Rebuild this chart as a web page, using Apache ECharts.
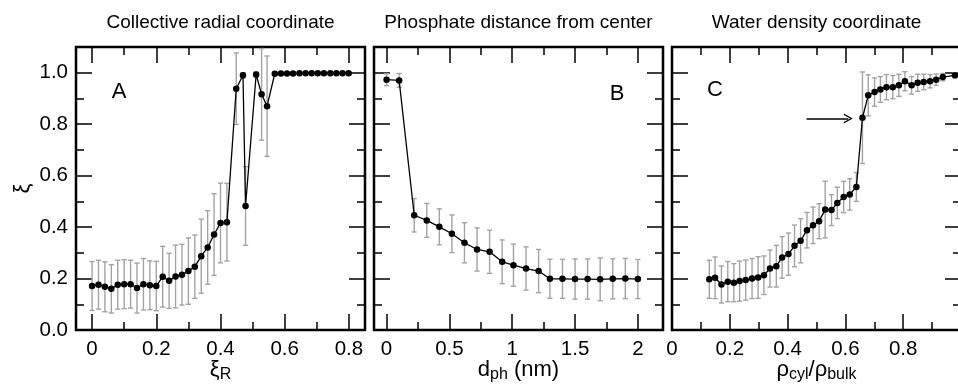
<!DOCTYPE html>
<html><head><meta charset="utf-8">
<script src="https://cdn.jsdelivr.net/npm/echarts@6/dist/echarts.min.js"></script>
<style>html,body{margin:0;padding:0;background:#fff}#c{width:958px;height:388px}</style>
</head><body><div id="c"></div>
<script>
// ---- Panel A: collective radial coordinate ----
const A_x = [0,0.02,0.04,0.06,0.08,0.10,0.12,0.14,0.16,0.18,0.20,0.22,0.24,0.26,0.28,0.30,0.32,0.34,0.36,0.38,0.40,0.42,0.449,0.470,0.478,0.511,0.528,0.545,0.569,0.588,0.607,0.626,0.646,0.665,0.684,0.703,0.722,0.742,0.761,0.780,0.799];
const A_y = [0.171,0.176,0.168,0.160,0.176,0.178,0.178,0.163,0.178,0.174,0.171,0.207,0.191,0.208,0.215,0.229,0.246,0.287,0.321,0.371,0.416,0.419,0.938,0.990,0.482,0.993,0.916,0.870,0.996,0.997,0.997,0.997,0.998,0.998,0.998,0.998,0.998,0.998,0.998,0.998,0.998];
const A_err = [0.095,0.095,0.097,0.094,0.095,0.095,0.093,0.097,0.100,0.095,0.096,0.118,0.107,0.122,0.118,0.129,0.123,0.144,0.143,0.159,0.155,0.151,0.139,0.010,0.153,0.010,0.178,0.195,0.004,0.004,0.004,0.004,0.004,0.004,0.004,0.004,0.004,0.004,0.004,0.004,0.004];
// ---- Panel B: phosphate distance ----
const B_x = [0,0.10,0.22,0.32,0.42,0.52,0.62,0.72,0.82,0.92,1.01,1.11,1.21,1.30,1.40,1.50,1.60,1.70,1.80,1.90,2.00];
const B_y = [0.973,0.970,0.446,0.426,0.401,0.374,0.339,0.313,0.304,0.265,0.252,0.239,0.229,0.199,0.199,0.198,0.198,0.197,0.199,0.200,0.198];
const B_err = [0.023,0.027,0.065,0.066,0.070,0.073,0.078,0.084,0.084,0.085,0.082,0.084,0.084,0.076,0.076,0.078,0.078,0.083,0.078,0.078,0.076];
// ---- Panel C: water density ----
const C_x = [0.129,0.149,0.171,0.193,0.214,0.234,0.255,0.277,0.298,0.318,0.339,0.361,0.381,0.403,0.424,0.445,0.467,0.488,0.509,0.530,0.552,0.572,0.594,0.615,0.638,0.659,0.679,0.701,0.721,0.742,0.764,0.785,0.806,0.829,0.850,0.871,0.893,0.914,0.937,0.979];
const C_y = [0.197,0.203,0.177,0.188,0.184,0.190,0.194,0.200,0.204,0.213,0.239,0.248,0.282,0.295,0.327,0.347,0.388,0.407,0.423,0.468,0.466,0.494,0.517,0.527,0.556,0.825,0.912,0.925,0.935,0.944,0.944,0.951,0.967,0.951,0.961,0.964,0.967,0.973,0.983,0.990];
const C_err = [0.074,0.081,0.072,0.078,0.074,0.078,0.078,0.078,0.081,0.075,0.072,0.081,0.081,0.082,0.081,0.086,0.069,0.071,0.068,0.110,0.060,0.061,0.061,0.061,0.056,0.178,0.080,0.055,0.050,0.049,0.045,0.043,0.037,0.034,0.033,0.030,0.026,0.022,0.014,0.010];
// arrow annotation in panel C (data coords)
const C_arrow = [[0.4655,0.822],[0.610,0.822]];

// ---- axes / ticks ----
const panelTitles = ['Collective radial coordinate','Phosphate distance from center','Water density coordinate'];
const panelLetters = ['A','B','C'];
const xRange = [[-0.05,0.85],[-0.1,2.2],[0,1.0]];
const xMajor = [[0,0.2,0.4,0.6,0.8],[0,0.5,1,1.5,2],[0,0.2,0.4,0.6,0.8,1.0]];
const xMinor = [[0.1,0.3,0.5,0.7],[0.25,0.75,1.25,1.75],[0.1,0.3,0.5,0.7,0.9]];
const xLabelVals = [[0,0.2,0.4,0.6,0.8],[0,0.5,1,1.5,2],[0,0.2,0.4,0.6,0.8]];
const yRange = [0,1.1];
const yMajor = [0,0.2,0.4,0.6,0.8,1.0];
const yMinor = [0.1,0.3,0.5,0.7,0.9];
const xNames = ['{a|ξ}{s|R}','{a|d}{s|ph}{a| (nm)}','{a|ρ}{s|cyl}{a|/ρ}{s|bulk}'];
const yName = 'ξ';

const FONT = 'Liberation Sans, Arial, Helvetica, sans-serif';
const gridLeft = [76,374,672];
const GT = 47, GW = 289, GH = 283;

const xs=[A_x,B_x,C_x], ys=[A_y,B_y,C_y], es=[A_err,B_err,C_err];

const grids=[], xAxes=[], yAxes=[], series=[];
// main grids 0..2, minor-tick grids 3..5
for (let k=0;k<2;k++) for (let p=0;p<3;p++) {
  grids.push({left:gridLeft[p], top:GT, width:GW, height:GH, show:k===0, borderColor:'#000', borderWidth:2.5,
    backgroundColor:'transparent', containLabel:false, outerBoundsMode:'none'});
}
const tickStyle = {color:'#000', width:1.5};
function xAx(gi,p,pos,ticks,len,withLabel){
  const o = {type:'value', gridIndex:gi, position:pos, min:xRange[p][0], max:xRange[p][1],
    axisLine:{show:false, onZero:false}, splitLine:{show:false},
    axisTick:{show:true, inside:true, length:len, customValues:ticks, lineStyle:tickStyle},
    axisLabel:{show:false}};
  if (withLabel) {
    o.axisLabel = {show:true, customValues:xLabelVals[p], fontSize:20.5, color:'#000', fontFamily:FONT, margin:9,
      formatter:(v)=>String(v)};
    o.name = xNames[p]; o.nameLocation='middle'; o.nameGap=29; o.nameMoveOverlap=false;
    o.nameTextStyle = {color:'#000', fontFamily:FONT, rich:{
      a:{fontSize:22, fontFamily:FONT, color:'#000', verticalAlign:'top', lineHeight:24},
      s:{fontSize:16, fontFamily:FONT, color:'#000', verticalAlign:'bottom', lineHeight:18, padding:[19,0,0,0]}}};
  }
  return o;
}
function yAx(gi,p,pos,ticks,len,withLabel){
  const o = {type:'value', gridIndex:gi, position:pos, min:yRange[0], max:yRange[1],
    axisLine:{show:false, onZero:false}, splitLine:{show:false},
    axisTick:{show:true, inside:true, length:len, customValues:ticks, lineStyle:tickStyle},
    axisLabel:{show:false}};
  if (withLabel) {
    o.axisLabel = {show:true, customValues:yMajor, fontSize:20.5, color:'#000', fontFamily:FONT, margin:8,
      formatter:(v)=>v.toFixed(1)};
    o.name = yName; o.nameLocation='middle'; o.nameGap=42; o.nameMoveOverlap=false;
    o.nameTextStyle = {fontSize:22, color:'#000', fontFamily:FONT};
  }
  return o;
}
for (let p=0;p<3;p++) xAxes.push(xAx(p,p,'bottom',xMajor[p],16,true));
for (let p=0;p<3;p++) xAxes.push(xAx(p,p,'top',xMajor[p],16,false));
for (let p=0;p<3;p++) xAxes.push(xAx(3+p,p,'bottom',xMinor[p],8,false));
for (let p=0;p<3;p++) xAxes.push(xAx(3+p,p,'top',xMinor[p],8,false));
for (let p=0;p<3;p++) yAxes.push(yAx(p,p,'left',yMajor,16,p===0));
for (let p=0;p<3;p++) yAxes.push(yAx(p,p,'right',yMajor,16,false));
for (let p=0;p<3;p++) yAxes.push(yAx(3+p,p,'left',yMinor,8,false));
for (let p=0;p<3;p++) yAxes.push(yAx(3+p,p,'right',yMinor,8,false));

const errStyle = {stroke:'#a3a3a3', lineWidth:1.4};
for (let p=0;p<3;p++) {
  series.push({type:'custom', xAxisIndex:p, yAxisIndex:p, z:2, silent:true,
    data: xs[p].map((v,i)=>[v, ys[p][i], es[p][i]]),
    encode:{x:0,y:1},
    renderItem:(params,api)=>{
      const x=api.value(0), y=api.value(1), e=api.value(2);
      if (e < 0.006) return null;
      const t=api.coord([x,y+e]), b=api.coord([x,y-e]); const w=2.6;
      return {type:'group', children:[
        {type:'line', shape:{x1:t[0],y1:t[1],x2:b[0],y2:b[1]}, style:errStyle},
        {type:'line', shape:{x1:t[0]-w,y1:t[1],x2:t[0]+w,y2:t[1]}, style:errStyle},
        {type:'line', shape:{x1:b[0]-w,y1:b[1],x2:b[0]+w,y2:b[1]}, style:errStyle}]};
    }});
  const s = {type:'line', xAxisIndex:p, yAxisIndex:p, z:3, silent:true,
    data: xs[p].map((v,i)=>[v, ys[p][i]]),
    symbol:'circle', symbolSize:6.5, showSymbol:true,
    lineStyle:{color:'#000', width:1.3}, itemStyle:{color:'#000'}};
  if (p===2) {
    s.markLine = {silent:true, symbol:['none','path://M0,10 L5,0 L10,10 L8.6,10 L5,2.8 L1.4,10 Z'], symbolSize:[10,9],
      lineStyle:{color:'#000', width:1.5, type:'solid'}, label:{show:false},
      data:[[{coord:C_arrow[0]},{coord:C_arrow[1]}]]};
  }
  series.push(s);
}

const graphic = [];
for (let p=0;p<3;p++) {
  graphic.push({type:'text', x:gridLeft[p]+GW/2, y:23, style:{text:panelTitles[p], fill:'#000', font:'19px '+FONT, align:'center', verticalAlign:'middle'}});
}
const letterPos = [[119,92],[617,94],[715,90]];
for (let p=0;p<3;p++) {
  graphic.push({type:'text', x:letterPos[p][0], y:letterPos[p][1], style:{text:panelLetters[p], fill:'#000', font:'22px '+FONT, align:'center', verticalAlign:'middle'}});
}

const chart = echarts.init(document.getElementById('c'), null, {renderer:'canvas'});
chart.setOption({animation:false, backgroundColor:'#fff', grid:grids, xAxis:xAxes, yAxis:yAxes, series, graphic});
</script></body></html>
